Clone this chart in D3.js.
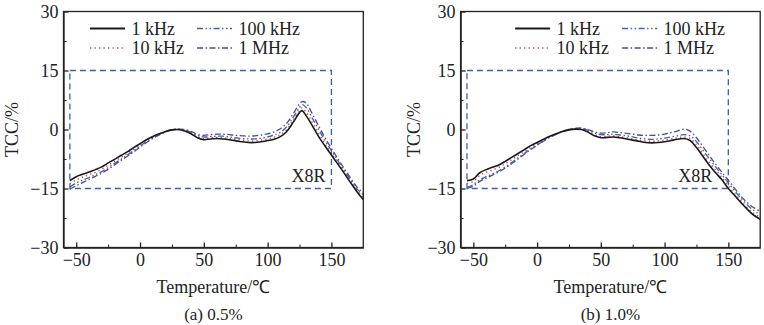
<!DOCTYPE html>
<html lang="en">
<head>
    <meta charset="UTF-8">
    <script src="https://d3js.org/d3.v7.min.js"></script>
    <title>TCC curves</title>
    <style>
        body { margin: 0; background: #fff; }
        svg text { font-family: "Liberation Serif", "Times New Roman", serif; fill: #222; }
        .axis path, .axis line { stroke: #222; }
    </style>
</head>
<body>
<div id="chart"></div>
<script>
// Temperature grid (°C) and capacitance change (%) for each frequency
const tempsA = [-55,-50,-45,-40,-35,-30,-25,-20,-15,-10,-5,0,5,10,15,20,25,30,35,40,45,50,55,60,65,70,75,80,85,90,95,100,105,110,115,120,125,127,130,135,140,145,150,155,160,165,170,175];
const a1k   = [-13.0,-12.0,-11.4,-10.8,-10.2,-9.5,-8.5,-7.6,-6.6,-5.7,-4.6,-3.6,-2.6,-1.8,-1.1,-0.5,-0.1,0.0,-0.4,-1.1,-2.1,-2.6,-2.4,-2.3,-2.4,-2.6,-2.9,-3.1,-3.3,-3.3,-3.1,-2.8,-2.5,-1.8,-0.5,1.8,4.3,4.8,3.6,1.0,-1.8,-4.2,-6.5,-8.8,-11.1,-13.5,-15.8,-17.8];
const a10k  = [-13.8,-12.8,-12.1,-11.5,-10.9,-10.1,-9.1,-8.1,-7.1,-6.1,-5.0,-3.9,-2.9,-2.0,-1.2,-0.5,-0.1,0.0,-0.3,-0.9,-1.8,-2.3,-2.1,-2.0,-2.1,-2.3,-2.5,-2.7,-2.9,-2.9,-2.7,-2.4,-2.0,-1.3,0.0,2.4,4.9,5.5,4.5,1.8,-1.0,-3.6,-6.0,-8.4,-10.8,-13.1,-15.4,-17.3];
const a100k = [-14.6,-13.6,-12.9,-12.2,-11.5,-10.7,-9.7,-8.6,-7.6,-6.5,-5.4,-4.2,-3.1,-2.2,-1.3,-0.6,-0.1,0.1,-0.1,-0.7,-1.5,-1.9,-1.8,-1.7,-1.7,-1.9,-2.1,-2.3,-2.4,-2.4,-2.2,-1.9,-1.4,-0.7,0.7,3.1,5.6,6.3,5.7,2.9,0.0,-2.8,-5.4,-7.9,-10.4,-12.8,-15.1,-16.6];
const a1M   = [-15.2,-14.3,-13.5,-12.7,-11.9,-11.1,-10.1,-9.0,-7.9,-6.8,-5.7,-4.5,-3.3,-2.3,-1.4,-0.6,-0.1,0.1,0.0,-0.5,-1.2,-1.5,-1.3,-1.2,-1.2,-1.3,-1.5,-1.6,-1.7,-1.6,-1.4,-1.1,-0.6,0.2,1.6,4.0,6.5,7.1,6.8,4.0,0.9,-2.1,-4.8,-7.4,-9.9,-12.3,-14.6,-16.1];

const tempsB = [-55,-50,-45,-40,-35,-30,-25,-20,-15,-10,-5,0,5,10,15,20,25,30,35,40,45,50,55,60,65,70,75,80,85,90,95,100,105,110,115,120,125,130,135,140,145,150,155,160,165,170,175];
const b1k   = [-13.0,-12.6,-11.0,-10.2,-9.6,-9.0,-8.1,-7.1,-6.1,-5.1,-4.1,-3.3,-2.5,-1.7,-1.1,-0.5,-0.1,0.1,0.0,-0.7,-1.6,-2.1,-2.0,-1.9,-2.1,-2.4,-2.7,-3.0,-3.3,-3.4,-3.3,-3.1,-2.8,-2.5,-2.3,-2.8,-4.6,-6.8,-9.0,-11.0,-12.8,-15.0,-16.8,-18.6,-20.3,-21.8,-22.8];
const b10k  = [-13.7,-13.2,-11.7,-10.9,-10.3,-9.6,-8.7,-7.7,-6.6,-5.6,-4.5,-3.6,-2.7,-1.8,-1.1,-0.5,0.0,0.2,0.1,-0.5,-1.3,-1.8,-1.7,-1.6,-1.8,-2.1,-2.4,-2.7,-2.9,-3.0,-2.9,-2.7,-2.4,-2.1,-1.9,-2.3,-3.9,-6.1,-8.3,-10.3,-12.2,-14.4,-16.3,-18.2,-19.9,-21.3,-22.3];
const b100k = [-14.7,-14.0,-12.8,-12.0,-11.3,-10.5,-9.5,-8.4,-7.2,-6.1,-4.9,-3.9,-2.9,-1.9,-1.2,-0.5,0.0,0.2,0.2,-0.2,-0.9,-1.3,-1.3,-1.2,-1.4,-1.6,-1.9,-2.2,-2.4,-2.5,-2.4,-2.2,-1.9,-1.6,-1.3,-1.6,-3.1,-5.2,-7.4,-9.5,-11.5,-13.6,-15.6,-17.5,-19.2,-20.6,-21.6];
const b1M   = [-15.0,-14.4,-13.2,-12.4,-11.6,-10.8,-9.8,-8.7,-7.5,-6.3,-5.1,-4.0,-3.0,-2.0,-1.2,-0.5,0.0,0.3,0.4,0.0,-0.6,-0.9,-0.8,-0.6,-0.8,-1.0,-1.2,-1.4,-1.5,-1.5,-1.4,-1.2,-0.8,-0.4,0.1,-0.4,-2.1,-4.3,-6.6,-8.8,-10.9,-12.9,-15.0,-17.0,-18.6,-19.9,-20.8];

const freqLabels = ["1 kHz", "10 kHz", "100 kHz", "1 MHz"];
const xTicks = [-50, 0, 50, 100, 150];
const yTicks = [-30, -15, 0, 15, 30];
// X8R limits: -55..150 °C, ±15 %
const x8rTemps = [-55, 150];
const x8rLimits = [-15, 15];

const lineStyles = [
    { color: "#1a1a1a", dash: null, width: 1.6 },
    { color: "#d9403f", dash: "1.3,3.2", width: 1.4 },
    { color: "#3a63b3", dash: "6,2.5,1.5,2.5,1.5,2.5", width: 1.3 },
    { color: "#4a4c92", dash: "6,2.5,1.5,2.5", width: 1.3 }
];

const FS = 18;
const W = 764, H = 325;
const svg = d3.select("#chart").append("svg").attr("width", W).attr("height", H);

function drawPanel(opt) {
    const x = d3.scaleLinear().domain([-60, 175]).range([opt.left, opt.right]);
    const y = d3.scaleLinear().domain([-30, 30]).range([247.5, 11.5]);
    const g = svg.append("g");

    // X8R dashed window
    g.append("rect")
        .attr("x", x(x8rTemps[0])).attr("y", y(x8rLimits[1]))
        .attr("width", x(x8rTemps[1]) - x(x8rTemps[0]))
        .attr("height", y(x8rLimits[0]) - y(x8rLimits[1]))
        .attr("fill", "none").attr("stroke", "#3a62a8")
        .attr("stroke-width", 1.3).attr("stroke-dasharray", "6,4");
    g.append("text")
        .attr("x", x(x8rTemps[1]) - opt.tagGap).attr("y", 182)
        .attr("text-anchor", "end").attr("font-size", FS).text("X8R");

    // curves
    const line = d3.line()
        .x((d, i) => x(opt.temps[i]))
        .y(d => y(d))
        .curve(d3.curveCatmullRom);
    const clip = "clip" + opt.id;
    svg.append("clipPath").attr("id", clip).append("rect")
        .attr("x", opt.left).attr("y", 11.5)
        .attr("width", opt.right - opt.left).attr("height", 236);
    const curves = g.append("g").attr("clip-path", `url(#${clip})`);
    // draw high frequencies first so the 1 kHz curve sits on top
    [3, 2, 1, 0].forEach(k => {
        curves.append("path")
            .datum(opt.series[k])
            .attr("d", line)
            .attr("fill", "none")
            .attr("stroke", lineStyles[k].color)
            .attr("stroke-width", lineStyles[k].width)
            .attr("stroke-dasharray", lineStyles[k].dash);
    });

    // axes: inward major and minor ticks
    const xAxis = g.append("g").attr("class", "axis")
        .attr("transform", `translate(0,${y(-30)})`)
        .call(d3.axisBottom(x).tickValues(xTicks).tickSize(-5).tickSizeOuter(0).tickPadding(6));
    g.append("g").attr("class", "axis")
        .attr("transform", `translate(0,${y(-30)})`)
        .call(d3.axisBottom(x).tickValues(xTicks.map(v => v + 25).filter(v => v < 175)).tickSize(-3).tickSizeOuter(0).tickFormat(""))
        .select(".domain").remove();
    const yAxis = g.append("g").attr("class", "axis")
        .attr("transform", `translate(${opt.left},0)`)
        .call(d3.axisLeft(y).tickValues(yTicks).tickSize(-5).tickSizeOuter(0).tickPadding(5));
    g.append("g").attr("class", "axis")
        .attr("transform", `translate(${opt.left},0)`)
        .call(d3.axisLeft(y).tickValues([-22.5, -7.5, 7.5, 22.5]).tickSize(-3).tickSizeOuter(0).tickFormat(""))
        .select(".domain").remove();
    [xAxis, yAxis].forEach(a => a.selectAll("text")
        .attr("font-size", FS).attr("font-family", "Liberation Serif, serif").attr("fill", "#222"));
    xAxis.selectAll("line, path").attr("stroke-width", 1.3);
    yAxis.selectAll("line, path").attr("stroke-width", 1.3);

    // frame
    g.append("rect")
        .attr("x", opt.left).attr("y", y(30))
        .attr("width", opt.right - opt.left).attr("height", y(-30) - y(30))
        .attr("fill", "none").attr("stroke", "#222").attr("stroke-width", 1.3);

    // legend (2 x 2)
    freqLabels.forEach((lab, k) => {
        const col = Math.floor(k / 2), row = k % 2;
        const lx = opt.left + opt.legX[col];
        const ly = 28.5 + row * 19.5;
        g.append("line")
            .attr("x1", lx).attr("x2", lx + 35).attr("y1", ly).attr("y2", ly)
            .attr("stroke", lineStyles[k].color)
            .attr("stroke-width", lineStyles[k].width + 0.2)
            .attr("stroke-dasharray", lineStyles[k].dash);
        g.append("text")
            .attr("x", lx + 41.5).attr("y", ly + 6)
            .attr("font-size", FS).text(lab);
    });

    // axis titles and caption
    const cx = (opt.left + opt.right) / 2;
    g.append("text")
        .attr("transform", `translate(${opt.yTitleX},${y(0)}) rotate(-90)`)
        .attr("text-anchor", "middle").attr("dy", "0.35em")
        .attr("font-size", FS).text("TCC/%");
    g.append("text")
        .attr("x", cx).attr("y", 293).attr("text-anchor", "middle")
        .attr("font-size", FS).text("Temperature/℃");
    g.append("text")
        .attr("x", cx).attr("y", 320).attr("text-anchor", "middle")
        .attr("font-size", 17).text(opt.caption);
}

drawPanel({ id: "a", left: 63.5, right: 363.3, temps: tempsA, yTitleX: 12, tagGap: 6,
    series: [a1k, a10k, a100k, a1M], legX: [26.5, 133.5], caption: "(a) 0.5%" });
drawPanel({ id: "b", left: 460.6, right: 760.2, temps: tempsB, yTitleX: 414, tagGap: 16,
    series: [b1k, b10k, b100k, b1M], legX: [54.5, 161.5], caption: "(b) 1.0%" });
</script>
</body>
</html>
